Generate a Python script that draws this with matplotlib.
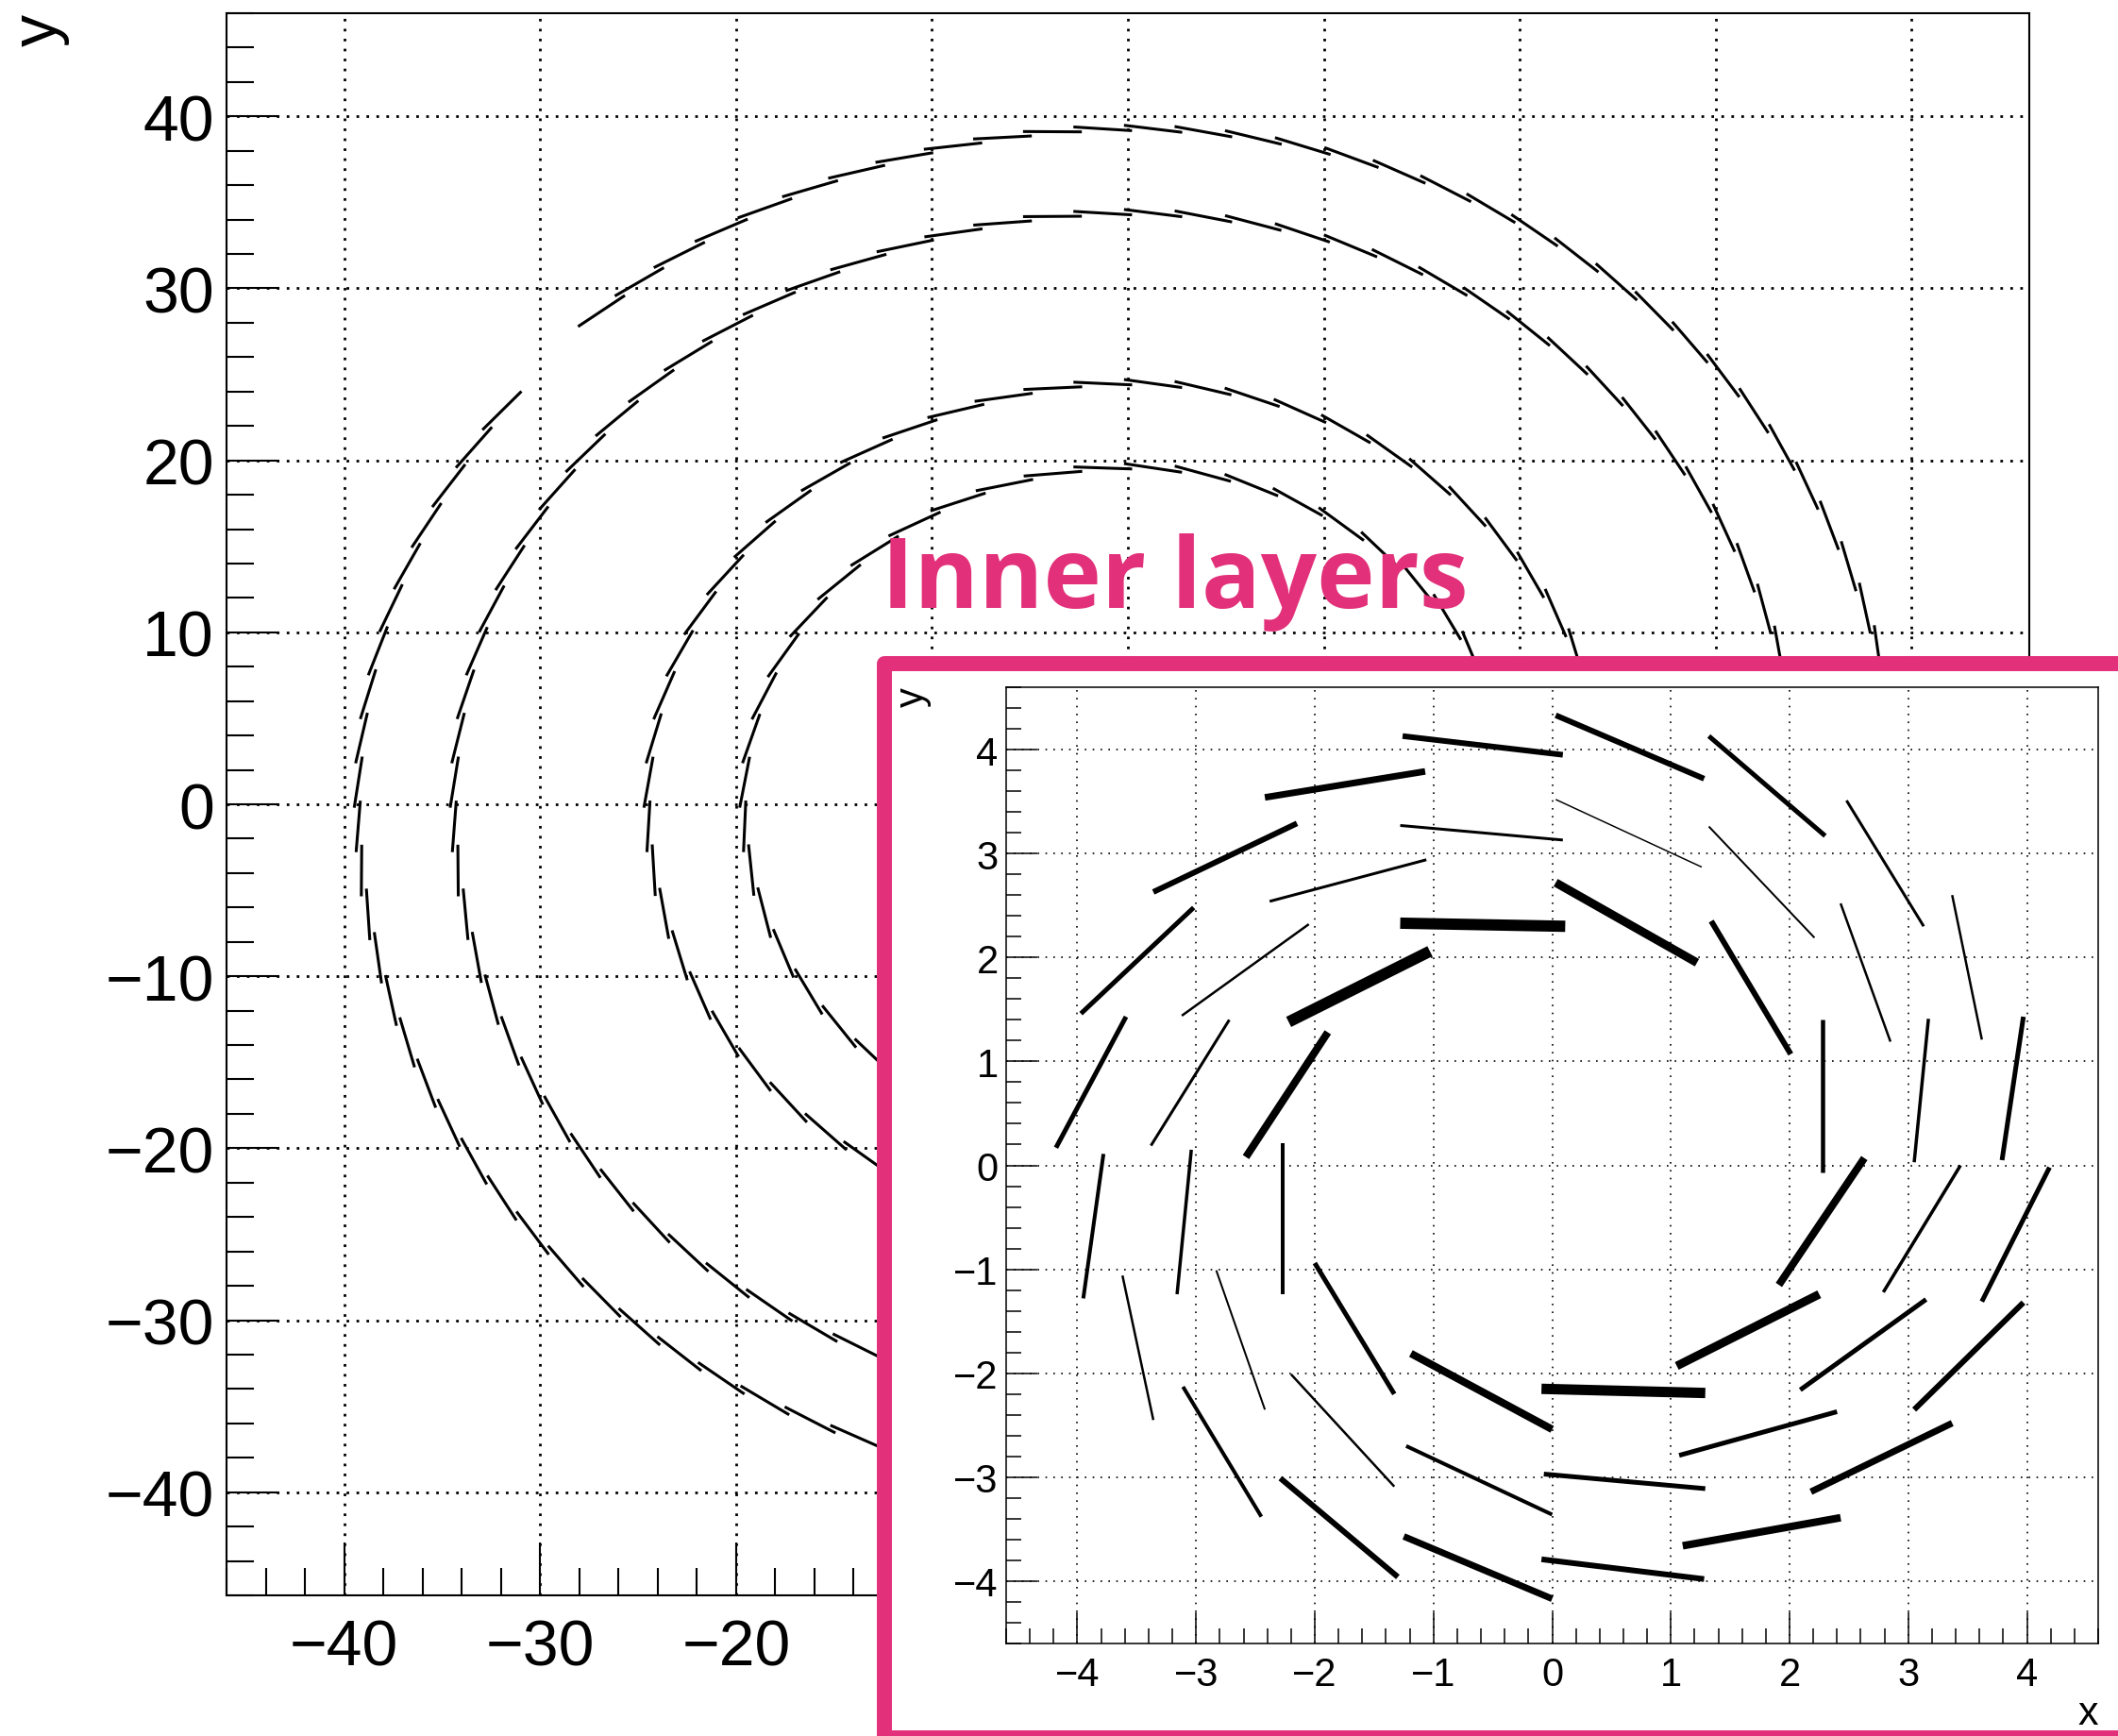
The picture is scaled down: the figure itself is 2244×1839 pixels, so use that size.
import numpy as np
import matplotlib.pyplot as plt
from matplotlib.collections import LineCollection
from matplotlib.patches import Rectangle
from matplotlib.ticker import MultipleLocator, FuncFormatter

plt.rcParams['font.family'] = ['Liberation Sans', 'DejaVu Sans']

W, H = 2244, 1840
PINK = '#E2317A'

# ---- outer barrel layers (module geometry) ----
layer_radius = [19.6, 24.5, 34.4, 39.3]
layer_modules = [48, 60, 84, 96]
module_length = 3.0
module_tilt = -6.0           # degrees from the tangent
missing_modules = {(3, 12), (3, 13)}   # (layer, module) not installed

# ---- inner layers, one row per module: x0, y0, x1, y1 ----
inner1_seg = np.array([
    [-1.28, 2.33, 0.11, 2.30], [0.03, 2.72, 1.22, 1.95], [1.34, 2.35, 2.01, 1.07],
    [2.28, 1.40, 2.28, -0.07], [2.63, 0.07, 1.91, -1.15], [2.25, -1.24, 1.05, -1.93],
    [1.29, -2.19, -0.09, -2.15], [0.00, -2.54, -1.19, -1.81], [-1.33, -2.20, -2.00, -0.94],
    [-2.27, -1.24, -2.27, 0.21], [-2.58, 0.08, -1.89, 1.28], [-2.22, 1.38, -1.03, 2.06],
])
inner1_width = [12, 9, 6, 4.5, 8, 9, 11, 8, 5, 4, 8, 12]   # px

inner2_seg = np.array([
    [-1.28, 3.27, 0.09, 3.13], [0.03, 3.52, 1.26, 2.87], [1.32, 3.26, 2.21, 2.19],
    [2.43, 2.52, 2.85, 1.19], [3.17, 1.41, 3.05, 0.03], [3.44, 0.00, 2.79, -1.22],
    [3.15, -1.29, 2.09, -2.16], [2.40, -2.37, 1.07, -2.79], [1.29, -3.11, -0.07, -2.97],
    [0.00, -3.36, -1.23, -2.70], [-1.33, -3.09, -2.20, -2.01], [-2.42, -2.35, -2.83, -1.01],
    [-3.16, -1.24, -3.04, 0.15], [-3.38, 0.19, -2.72, 1.40], [-3.12, 1.44, -2.05, 2.32],
    [-2.38, 2.54, -1.06, 2.94],
])
inner2_width = [3, 1.5, 2, 2.5, 3.5, 3.5, 5, 5, 5, 4, 2.5, 2, 3.5, 3, 2.5, 3]

inner3_seg = np.array([
    [-1.26, 4.13, 0.09, 3.95], [0.03, 4.33, 1.28, 3.72], [1.32, 4.13, 2.30, 3.17],
    [2.48, 3.51, 3.13, 2.30], [3.37, 2.60, 3.62, 1.21], [3.97, 1.43, 3.79, 0.05],
    [4.19, -0.02, 3.62, -1.31], [3.97, -1.32, 3.05, -2.35], [3.37, -2.48, 2.18, -3.14],
    [2.43, -3.39, 1.10, -3.66], [1.28, -3.98, -0.09, -3.79], [0.00, -4.17, -1.25, -3.57],
    [-1.30, -3.96, -2.29, -3.01], [-2.45, -3.38, -3.11, -2.13], [-3.36, -2.45, -3.62, -1.06],
    [-3.95, -1.28, -3.78, 0.11], [-4.18, 0.17, -3.59, 1.43], [-3.97, 1.46, -3.02, 2.48],
    [-3.36, 2.63, -2.15, 3.29], [-2.42, 3.54, -1.07, 3.79],
])
inner3_width = [6, 6, 5, 3, 2.5, 5, 5, 6, 7, 8, 6, 7, 6, 4, 2.5, 4, 5, 5, 6, 7]


def barrel_segments():
    segs = []
    tilt = np.radians(module_tilt)
    for li, (r, n) in enumerate(zip(layer_radius, layer_modules)):
        pitch = 2 * np.pi / n
        for k in range(n):
            if (li, k) in missing_modules:
                continue
            phi = np.pi / 2 + (k + 0.5) * pitch
            cx, cy = r * np.cos(phi), r * np.sin(phi)
            # clockwise tangent, turned by the module tilt
            tx, ty = np.sin(phi), -np.cos(phi)
            ux = tx * np.cos(tilt) - ty * np.sin(tilt)
            uy = tx * np.sin(tilt) + ty * np.cos(tilt)
            h = module_length / 2
            segs.append([(cx - h * ux, cy - h * uy), (cx + h * ux, cy + h * uy)])
    return segs


def root_style(ax, lab, pad_x, pad_y, major, minor, wid):
    ax.tick_params(which='both', direction='in', top=False, right=False,
                   width=wid, labelsize=lab)
    ax.tick_params(which='major', length=major)
    ax.tick_params(which='minor', length=minor)
    ax.tick_params(axis='x', pad=pad_x)
    ax.tick_params(axis='y', pad=pad_y)
    for s in ax.spines.values():
        s.set_linewidth(wid)
    ax.set_axisbelow(True)


fig = plt.figure(figsize=(W / 100, H / 100), dpi=100)

# ---- main view ----
ax = fig.add_axes([240 / W, 1 - 1691 / H, (2150 - 240) / W, (1691 - 15) / H])
ax.set_xlim(-46, 46)
ax.set_ylim(-46, 46)
ax.xaxis.set_major_locator(MultipleLocator(10))
ax.yaxis.set_major_locator(MultipleLocator(10))
ax.xaxis.set_minor_locator(MultipleLocator(2))
ax.yaxis.set_minor_locator(MultipleLocator(2))
# labels right of -20 sit under the inner-layer panel
ax.xaxis.set_major_formatter(FuncFormatter(
    lambda v, p: f'{v:.0f}'.replace('-', '\u2212') if v < -15 else ''))
root_style(ax, 49, 17, 9.5, 40, 21, 1.5)
ax.grid(True, which='major', color='black', linestyle=(0, (1, 2.8)), linewidth=2.0)
ax.add_collection(LineCollection(barrel_segments(), colors='black',
                                 linewidths=2.2, capstyle='butt'))
fig.text(42 / W, 1 - 15 / H, 'y', rotation=90, ha='center', va='top', fontsize=49)

# ---- framed panel for the inner layers ----
fig.add_artist(Rectangle((937 / W, 1 - 1842 / H), (2280 - 937) / W, (1842 - 704) / H,
                         transform=fig.transFigure, facecolor='white', edgecolor=PINK,
                         linewidth=11.5, joinstyle='round', zorder=2))

ins = fig.add_axes([1066 / W, 1 - 1742 / H, (2223 - 1066) / W, (1742 - 729) / H])
ins.set_zorder(3)
ins.set_xlim(-4.6, 4.6)
ins.set_ylim(-4.6, 4.6)
ins.xaxis.set_major_locator(MultipleLocator(1))
ins.yaxis.set_major_locator(MultipleLocator(1))
ins.xaxis.set_minor_locator(MultipleLocator(0.2))
ins.yaxis.set_minor_locator(MultipleLocator(0.2))
root_style(ins, 30, 9.6, 6, 23.8, 11.5, 1.1)
ins.grid(True, which='major', color='black', linestyle=(0, (1, 4)), linewidth=1.2)
for seg, wpx in ((inner1_seg, inner1_width), (inner2_seg, inner2_width),
                 (inner3_seg, inner3_width)):
    lines = [[(a, b), (c, d)] for a, b, c, d in seg]
    ins.add_collection(LineCollection(lines, colors='black',
                                      linewidths=np.array(wpx) * 0.72, capstyle='butt'))

fig.text(967 / W, 1 - 728 / H, 'y', rotation=90, ha='center', va='top', fontsize=30, zorder=5)
fig.text(2223 / W, 1 - 1827 / H, 'x', ha='right', va='baseline', fontsize=31, zorder=5)

fig.text(934 / W, 1 - 644 / H, 'Inner layers', ha='left', va='baseline', color=PINK,
         fontsize=75, fontweight='bold', family=['Open Sans', 'DejaVu Sans'], zorder=4)

fig.savefig('out.png', dpi=100)
